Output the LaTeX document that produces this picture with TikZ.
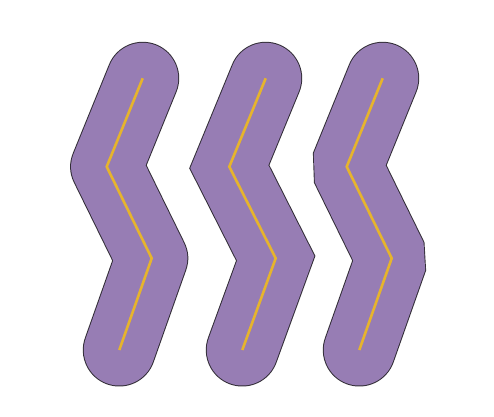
\documentclass[tikz,border=0pt]{standalone}
\definecolor{band}{RGB}{151,125,180}
\definecolor{core}{RGB}{230,180,45}
\definecolor{edge}{RGB}{50,45,55}
\tikzset{
  outer/.style={draw=edge,line width=73pt,line cap=round},
  inner/.style={draw=band,line width=71pt,line cap=round},
  centre/.style={draw=core,line width=2.6pt}
}
\begin{document}
\begin{tikzpicture}[x=1pt,y=-1pt]
\useasboundingbox (0,0) rectangle (494,416);
% path 1: round join
\draw[outer,line join=round] (142.7,78.3) -- (106.7,166.7) -- (151.7,258.3) -- (119.3,350);
\draw[inner,line join=round] (142.7,78.3) -- (106.7,166.7) -- (151.7,258.3) -- (119.3,350);
\draw[centre] (142.7,78.3) -- (106.7,166.7) -- (151.7,258.3) -- (119.3,350);
% path 2: miter join
\draw[outer,line join=miter] (265.7,78.3) -- (229.3,166.7) -- (275.7,258.3) -- (242.3,350);
\draw[inner,line join=miter] (265.7,78.3) -- (229.3,166.7) -- (275.7,258.3) -- (242.3,350);
\draw[centre] (265.7,78.3) -- (229.3,166.7) -- (275.7,258.3) -- (242.3,350);
% path 3: bevel join
\draw[outer,line join=bevel] (382.7,78.3) -- (346.7,166.7) -- (391.7,258.3) -- (359.3,350);
\draw[inner,line join=bevel] (382.7,78.3) -- (346.7,166.7) -- (391.7,258.3) -- (359.3,350);
\draw[centre] (382.7,78.3) -- (346.7,166.7) -- (391.7,258.3) -- (359.3,350);
\end{tikzpicture}
\end{document}
